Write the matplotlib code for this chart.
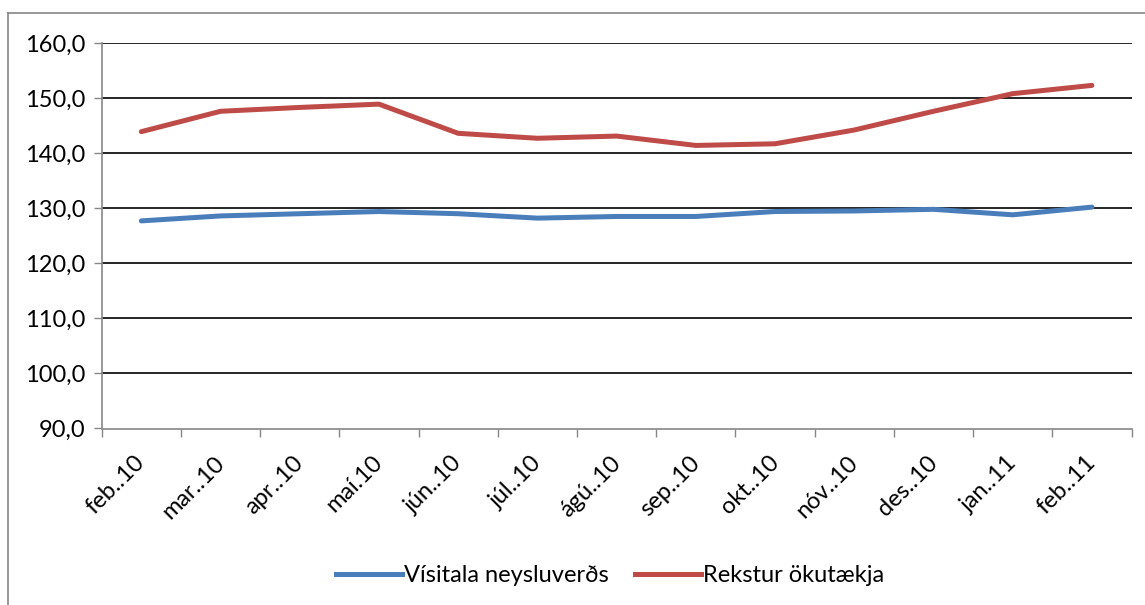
import matplotlib
matplotlib.use("Agg")
import matplotlib.pyplot as plt
from matplotlib.lines import Line2D
from matplotlib.transforms import ScaledTranslation

categories = ["feb..10", "mar..10", "apr..10", "maí.10", "jún..10", "júl..10", "ágú..10",
              "sep..10", "okt..10", "nóv..10", "des..10", "jan..11", "feb..11"]
visitala = [127.7, 128.6, 129.0, 129.4, 129.0, 128.2, 128.5, 128.5, 129.4, 129.5, 129.8, 128.8, 130.2]
rekstur = [143.9, 147.6, 148.3, 148.9, 143.6, 142.7, 143.1, 141.4, 141.7, 144.2, 147.6, 150.8, 152.3]
yticks = [90, 100, 110, 120, 130, 140, 150, 160]
ytick_labels = ["90,0", "100,0", "110,0", "120,0", "130,0", "140,0", "150,0", "160,0"]

plt.rcParams['font.family'] = ['Lato', 'DejaVu Sans']

W, H = 1145, 605
fig = plt.figure(figsize=(W / 100, H / 100), dpi=100)
ax = fig.add_axes([101.7 / W, 1 - 428.5 / H, (1131.5 - 101.7) / W, (428.5 - 43) / H])

x = list(range(len(categories)))
blue = "#4A7EBB"
red = "#BE4B48"
ax.plot(x, visitala, color=blue, lw=3.6, solid_capstyle="round", zorder=3, label="Vísitala neysluverðs")
ax.plot(x, rekstur, color=red, lw=3.6, solid_capstyle="round", zorder=3, label="Rekstur ökutækja")

ax.set_xlim(-0.5, len(categories) - 0.5)
ax.set_ylim(90, 160)
ax.set_yticks(yticks)
ax.set_yticklabels(ytick_labels, fontsize=17)
for yv in yticks[1:]:
    ax.axhline(yv, color="black", lw=1.2, zorder=1)

ax.set_xticks([i - 0.5 for i in range(len(categories) + 1)])
ax.set_xticklabels([])
ax.set_xticks(x, minor=True)
ax.set_xticklabels(categories, minor=True, rotation=45, ha="right", va="top",
                   rotation_mode="anchor", fontsize=17)
ax.tick_params(axis="x", which="minor", length=0, pad=17)
ax.tick_params(axis="x", which="major", length=6, color="#868686", width=1)
ax.tick_params(axis="y", length=6, color="#868686", width=1, pad=6)
offset = ScaledTranslation(-7 / 100, 0, fig.dpi_scale_trans)
for lbl in ax.get_xticklabels(minor=True):
    lbl.set_transform(lbl.get_transform() + offset)

for s in ["top", "right"]:
    ax.spines[s].set_visible(False)
for s in ["left", "bottom"]:
    ax.spines[s].set_color("#868686")
    ax.spines[s].set_linewidth(1.2)

handles = [Line2D([], [], color=blue, lw=3.6), Line2D([], [], color=red, lw=3.6)]
fig.legend(handles, ["Vísitala neysluverðs", "Rekstur ökutækja"], loc="center",
           bbox_to_anchor=(610 / W, 1 - 576 / H), ncol=2, frameon=False, fontsize=17,
           handlelength=2.8, handletextpad=0.1, columnspacing=1.1)

# chart area border (top & left visible)
fig.add_artist(Line2D([8 / W, 1], [1 - 13 / H, 1 - 13 / H], color="#868686", lw=1.2, transform=fig.transFigure))
fig.add_artist(Line2D([8 / W, 8 / W], [0, 1 - 13 / H], color="#868686", lw=1.2, transform=fig.transFigure))

fig.savefig("out.png", dpi=100)
